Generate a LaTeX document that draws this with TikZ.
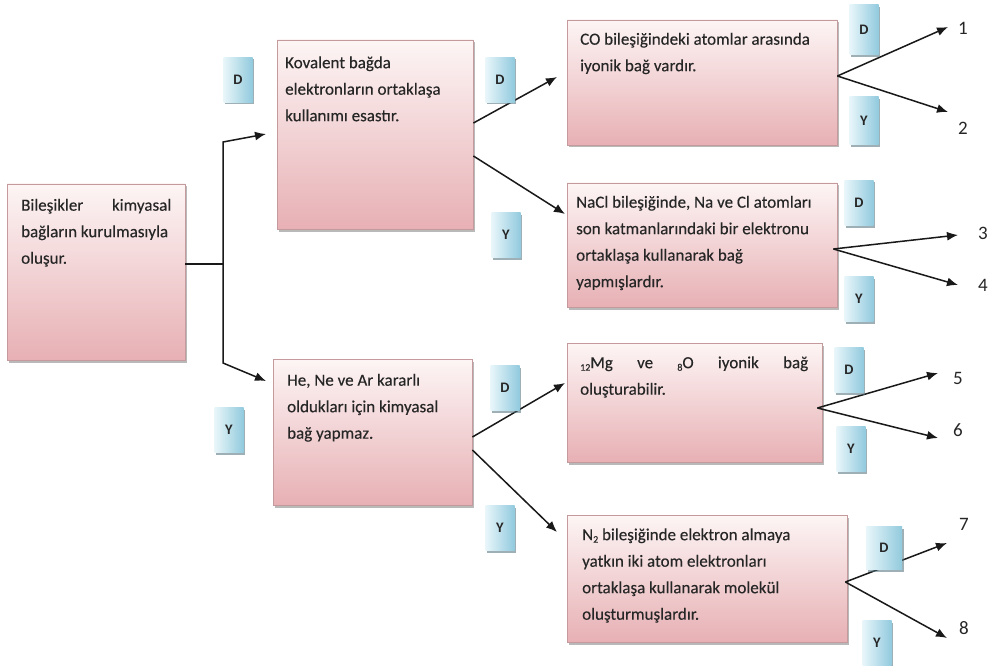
\documentclass[tikz,border=0pt]{standalone}
\usepackage{fontspec}
\setmainfont{Carlito}
\newfontfamily\qfont{Carlito}[FakeBold=0.25]
\usetikzlibrary{arrows.meta,shadows}
\definecolor{boxTop}{HTML}{FDF5F5}
\definecolor{boxBot}{HTML}{E7B0B4}
\definecolor{boxLine}{HTML}{C49A9C}
\definecolor{badL}{HTML}{E8F6FA}
\definecolor{badR}{HTML}{92CADD}
\definecolor{txt}{HTML}{262626}
\newcommand{\lowsub}[1]{\raisebox{-2.5pt}{\fontsize{10}{10}\selectfont #1}}
\begin{document}
\begin{tikzpicture}[x=1pt,y=-1pt,
 qbox/.style={rectangle, draw=boxLine, line width=0.8pt, top color=boxTop, bottom color=boxBot,
   drop shadow={shadow xshift=2pt, shadow yshift=-2.5pt, fill=black!50, opacity=0.55}, inner sep=0},
 qtext/.style={anchor=north west, inner sep=0, text=txt, font=\qfont\fontsize{17}{26.5}\selectfont, align=flush left},
 badge/.style={rectangle, left color=badL, right color=badR, draw=none,
   drop shadow={shadow xshift=1.5pt, shadow yshift=-2pt, fill=badR!55!black, opacity=0.55},
   minimum width=29pt, minimum height=45pt, inner sep=0, font=\fontsize{14.5}{14.5}\selectfont\bfseries, text=black!85},
 conn/.style={line width=1.5pt, black!90},
 arr/.style={conn, -{Latex[length=11pt,width=9pt]}},
 num/.style={font=\fontsize{19}{19}\selectfont, text=txt, inner sep=0}]
\fill[white] (0,0) rectangle (991,666);
\useasboundingbox (0,0) rectangle (991,666);
% boxes
\node[qbox, minimum width=178pt, minimum height=176pt] (A) at (96,272) {};
\node[qbox, minimum width=196pt, minimum height=189pt] (B) at (375,134.5) {};
\node[qbox, minimum width=270pt, minimum height=125pt] (C) at (702,82.5) {};
\node[qbox, minimum width=270pt, minimum height=124pt] (D) at (702,245) {};
\node[qbox, minimum width=199pt, minimum height=146pt] (E) at (372.5,432) {};
\node[qbox, minimum width=255pt, minimum height=119pt] (F) at (694.5,402.5) {};
\node[qbox, minimum width=280pt, minimum height=127pt] (G) at (707,578.5) {};
% texts
\node[qtext, text width=150pt] (tA) at (21,197.5) {\rule{0pt}{13pt}Bileşikler\hfill kimyasal\\ bağların kurulmasıyla\\ oluşur.};
\node[qtext, text width=182pt] (tB) at (285,55) {\rule{0pt}{13pt}Kovalent bağda\\ elektronların ortaklaşa\\ kullanımı esastır.};
\node[qtext, text width=250pt] (tC) at (580,31.5) {\rule{0pt}{13pt}CO bileşiğindeki atomlar arasında\\ iyonik bağ vardır.};
\node[qtext, text width=256pt] (tD) at (576,194.5) {\rule{0pt}{13pt}NaCl bileşiğinde, Na ve Cl atomları\\ son katmanlarındaki bir elektronu\\ ortaklaşa kullanarak bağ\\ yapmışlardır.};
\node[qtext, text width=182pt] (tE) at (287,372.5) {\rule{0pt}{13pt}He, Ne ve Ar kararlı\\ oldukları için kimyasal\\ bağ yapmaz.};
\node[qtext, text width=228pt] (tF) at (580,355) {\rule{0pt}{13pt}\lowsub{12}Mg\hfill ve\hfill \lowsub{8}O\hfill iyonik\hfill bağ\\ oluşturabilir.};
\node[qtext, text width=256pt] (tG) at (582,527) {\rule{0pt}{13pt}N\lowsub{2} bileşiğinde elektron almaya\\ yatkın iki atom elektronları\\ ortaklaşa kullanarak molekül\\ oluşturmuşlardır.};
% junction and tips
\coordinate (j) at (223,264);
\coordinate (jt) at (223,142);
\coordinate (jb) at (223,363);
\coordinate (tipB) at (266,134);
\coordinate (tipE) at (266,381);
\coordinate (tipC) at (557,77);
\coordinate (tipD) at (565,214);
\coordinate (tipF) at (565,383);
\coordinate (tipG) at (557,532);
\coordinate (t1) at (948,27);
\coordinate (t2) at (948,112);
\coordinate (t3) at (958,235);
\coordinate (t4) at (958,285);
\coordinate (t5) at (938,373);
\coordinate (t6) at (938,438);
\coordinate (t7) at (947,543);
\coordinate (t8) at (947,638);
% connectors
\draw[conn] (A.east |- j) -- (j);
\draw[arr] (j) -- (jt) -- (tipB);
\draw[arr] (j) -- (jb) -- (tipE);
\draw[arr] ([yshift=11.5pt]B.east) -- (tipC);
\draw[arr] ([yshift=-21.5pt]B.east) -- (tipD);
\draw[arr] ([yshift=-5pt]E.east) -- (tipF);
\draw[arr] ([yshift=-18pt]E.east) -- (tipG);
\draw[arr] ([yshift=6.5pt]C.east) -- (t1);
\draw[arr] ([yshift=6.5pt]C.east) -- (t2);
\draw[arr] ([xshift=-4pt,yshift=-4pt]D.east) -- (t3);
\draw[arr] ([xshift=-4pt,yshift=-4pt]D.east) -- (t4);
\draw[arr] ([xshift=-5pt,yshift=-5.5pt]F.east) -- (t5);
\draw[arr] ([xshift=-5pt,yshift=-5.5pt]F.east) -- (t6);
\draw[arr] ([xshift=-2pt,yshift=-3.5pt]G.east) -- (t7);
\draw[arr] ([xshift=-2pt,yshift=-3.5pt]G.east) -- (t8);
% badges
\node[badge] (bD1) at (238,80) {D};
\node[badge] (bD2) at (500,80) {D};
\node[badge] (bY2) at (506,235) {Y};
\node[badge] (bY1) at (229,430) {Y};
\node[badge] (bD3) at (505,388) {D};
\node[badge] (bY3) at (500,528) {Y};
\node[badge, minimum height=50pt] (bDC) at (864,30) {D};
\node[badge, minimum height=48pt] (bYC) at (864,121) {Y};
\node[badge] (bDD) at (859,203) {D};
\node[badge] (bYD) at (859,299) {Y};
\node[badge] (bDF) at (849,370) {D};
\node[badge] (bYF) at (851,449) {Y};
\node[badge, minimum width=36pt, minimum height=43pt] (bDG) at (884,548) {D};
\node[badge] (bYG) at (877,643) {Y};
% numbers
\node[num] (n1) at (963,28) {1};
\node[num] (n2) at (963,128) {2};
\node[num] (n3) at (983,233) {3};
\node[num] (n4) at (983,285) {4};
\node[num] (n5) at (958,378) {5};
\node[num] (n6) at (958,430) {6};
\node[num] (n7) at (964,524) {7};
\node[num] (n8) at (964,628) {8};
\end{tikzpicture}
\end{document}
